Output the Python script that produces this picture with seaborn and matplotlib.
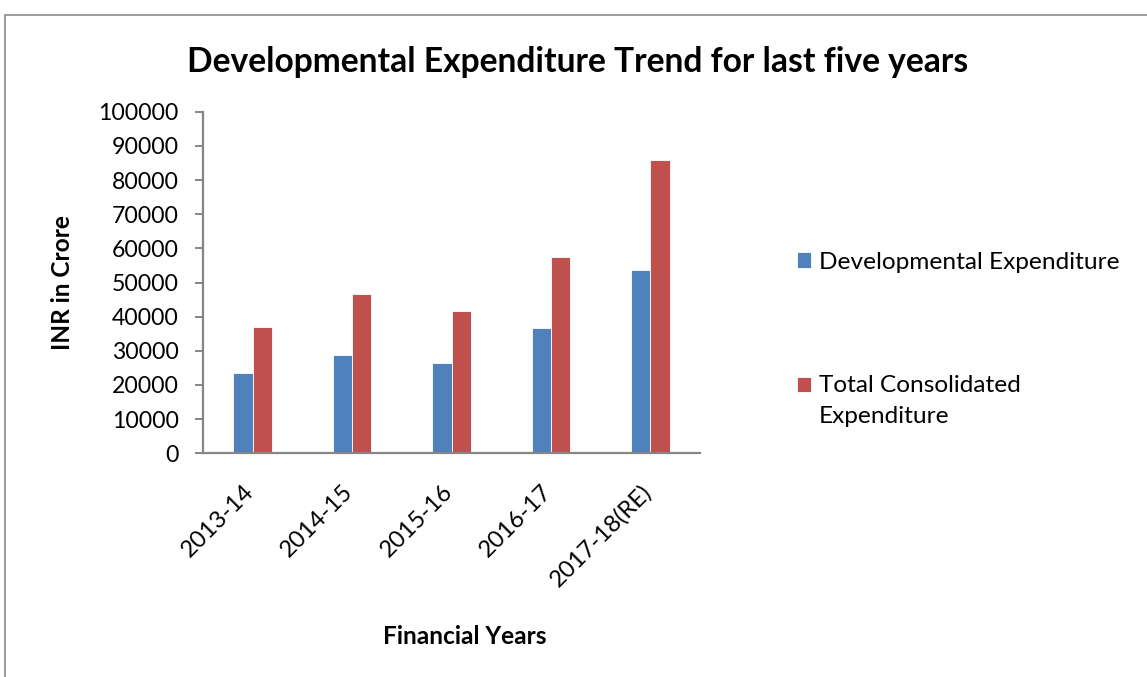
import matplotlib
matplotlib.use("Agg")
import matplotlib.pyplot as plt
from matplotlib.patches import Rectangle
from matplotlib.transforms import ScaledTranslation
import seaborn as sns
import pandas as pd

years = ["2013-14", "2014-15", "2015-16", "2016-17", "2017-18(RE)"]
developmental = [23400, 28700, 26300, 36600, 53600]
total_consolidated = [36900, 46600, 41800, 57400, 85900]
series_names = ["Developmental Expenditure", "Total Consolidated\nExpenditure"]
colors = ["#4F81BD", "#C0504D"]
y_ticks = list(range(0, 100001, 10000))

df = pd.DataFrame({
    "year": years * 2,
    "value": developmental + total_consolidated,
    "series": [series_names[0]] * len(years) + [series_names[1]] * len(years),
})

sns.set_theme(style="white")
plt.rcParams["font.family"] = ["Lato", "DejaVu Sans"]

W, H = 1147, 677
fig = plt.figure(figsize=(W / 100, H / 100), dpi=100)
ax = fig.add_axes([203 / W, 1 - 453.3 / H, (700 - 203) / W, (453.3 - 111.7) / H])

sns.barplot(data=df, x="year", y="value", hue="series", order=years,
            hue_order=series_names, palette=colors, width=0.39,
            saturation=1, ax=ax, legend=True, edgecolor="white", linewidth=0.6)

ax.set_xlim(-0.5, len(years) - 0.5)
ax.set_ylim(0, 100000)
ax.set_yticks(y_ticks)
ax.set_yticklabels([str(v) for v in y_ticks], fontsize=16.6, color="black")

axis_gray = "#868686"
for side in ("top", "right"):
    ax.spines[side].set_visible(False)
for side in ("left", "bottom"):
    ax.spines[side].set_color(axis_gray)
    ax.spines[side].set_linewidth(1.6)

ax.tick_params(axis="y", which="major", left=True, length=5.5, width=1.4,
               color=axis_gray, pad=12, direction="out")
ax.tick_params(axis="x", which="major", bottom=False, pad=14)
ax.set_xticks(range(len(years)))
ax.set_xticklabels(years, rotation=45, ha="right", va="top", fontsize=17.2,
                   color="black")
shift = ScaledTranslation(5 / 100, 0, fig.dpi_scale_trans)
for lbl in ax.get_xticklabels():
    lbl.set_transform(lbl.get_transform() + shift)

ax.set_xlabel("Financial Years", fontsize=17.6, fontweight="bold", color="black")
ax.xaxis.set_label_coords((465 - 203) / 497, (677 - 625 - 223.7) / 341.6)
ax.set_ylabel("INR in Crore", fontsize=17.6, fontweight="bold", color="black")
ax.yaxis.set_label_coords((74 - 203) / 497, 0.5)

fig.text(578 / W, 1 - 62 / H, "Developmental Expenditure Trend for last five years",
         ha="center", va="center", fontsize=24.2, fontweight="bold", color="black")

leg = ax.legend(loc="center left", bbox_to_anchor=(797 / W, 1 - 339.5 / H),
                bbox_transform=fig.transFigure, frameon=False, fontsize=17.6,
                handlelength=0.58, handleheight=0.58, handletextpad=0.3,
                labelspacing=4.2, borderpad=0, borderaxespad=0)
for t in leg.get_texts():
    t.set_linespacing(1.6)
    t.set_color("black")
handle = leg.legend_handles[1]
handle.set_y(handle.get_y() + 12)

# outer chart frame
fig.patches.append(Rectangle((5 / W, -0.1), 1.2, 1.1 - 15 / H,
                             transform=fig.transFigure, fill=False,
                             edgecolor="#8a8a8a", linewidth=1.2))

fig.savefig("out.png", dpi=100)
